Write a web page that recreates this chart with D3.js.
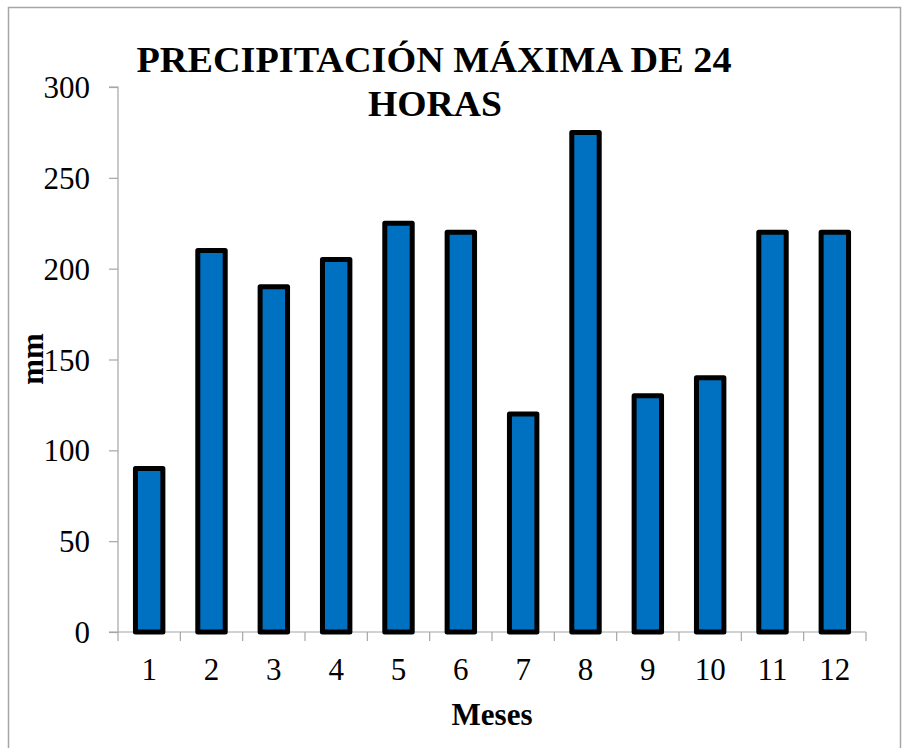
<!DOCTYPE html>
<html><head><meta charset="utf-8">
<script src="https://cdn.jsdelivr.net/npm/d3@7"></script>
</head><body style="margin:0">
<svg id="c" width="906" height="748"></svg>
<script>
const months = ["1","2","3","4","5","6","7","8","9","10","11","12"];
const values = [90,210,190,205,225,220,120,275,130,140,220,220];
const yTicks = [0,50,100,150,200,250,300];
const titleLines = ["PRECIPITACIÓN MÁXIMA DE 24","HORAS"];
const xTitle = "Meses", yTitle = "mm";
const FF = "'Liberation Serif'";

const svg = d3.select("#c");
svg.append("rect").attr("x",8.5).attr("y",7.5).attr("width",892).attr("height",745)
  .attr("fill","#fff").attr("stroke","#a6a6a6").attr("stroke-width",1.5);

const L=118, R=866, T=87, B=632;
const x = d3.scaleBand().domain(months).range([L,R]).paddingInner(0.56).paddingOuter(0.28);
const y = d3.scaleLinear().domain([0,300]).range([B,T]);

const yAx = svg.append("g").attr("transform",`translate(${L},0)`)
  .call(d3.axisLeft(y).tickValues(yTicks).tickSize(9).tickPadding(19));
const xAx = svg.append("g").attr("transform",`translate(0,${B})`)
  .call(d3.axisBottom(x).tickSize(0).tickPadding(26));
const xb = d3.scaleLinear().domain([0,12]).range([L,R]);
svg.append("g").selectAll("line").data(d3.range(13)).join("line")
  .attr("x1",d=>xb(d)).attr("x2",d=>xb(d)).attr("y1",B).attr("y2",B+9)
  .attr("stroke","#a6a6a6").attr("stroke-width",1.2);
[yAx,xAx].forEach(g=>{
  g.attr("font-family","Liberation Serif").attr("font-size",31);
  g.selectAll(".domain").attr("stroke","#a6a6a6").attr("stroke-width",1.2);
  g.selectAll(".tick line").attr("stroke","#a6a6a6").attr("stroke-width",1.2);
  g.selectAll("text").attr("font-family","Liberation Serif").style("font-family",FF).style("font-size","31px").attr("fill","#000");
});
yAx.selectAll("text").attr("dy","0.34em");
yAx.select(".domain").attr("d",`M-9,${T}H0V${B}H-9`);
xAx.select(".domain").attr("d",`M${L},0H${R}`);

svg.append("g").selectAll("rect").data(values).join("rect")
  .attr("x",(d,i)=>x(months[i])).attr("width",x.bandwidth())
  .attr("y",d=>y(d)).attr("height",d=>B-y(d))
  .attr("fill","#0070C0").attr("stroke","#000").attr("stroke-width",5).attr("stroke-linejoin","round");

function label(sel){ return sel.attr("font-family","Liberation Serif").style("font-family",FF).style("font-weight","bold").attr("font-weight","bold"); }
label(svg.append("text").attr("x",492).attr("y",725).attr("text-anchor","middle").style("font-size","31px")).text(xTitle);
label(svg.append("text").attr("transform","translate(43,359) rotate(-90)").attr("text-anchor","middle").style("font-size","31px")).text(yTitle);
label(svg.append("text").attr("x",434).attr("y",72).attr("text-anchor","middle").style("font-size","35px")
  .attr("textLength",595).attr("lengthAdjust","spacingAndGlyphs")).text(titleLines[0]);
label(svg.append("text").attr("x",435).attr("y",116).attr("text-anchor","middle").style("font-size","35px")
  .attr("textLength",134).attr("lengthAdjust","spacingAndGlyphs")).text(titleLines[1]);
</script>
</body></html>
